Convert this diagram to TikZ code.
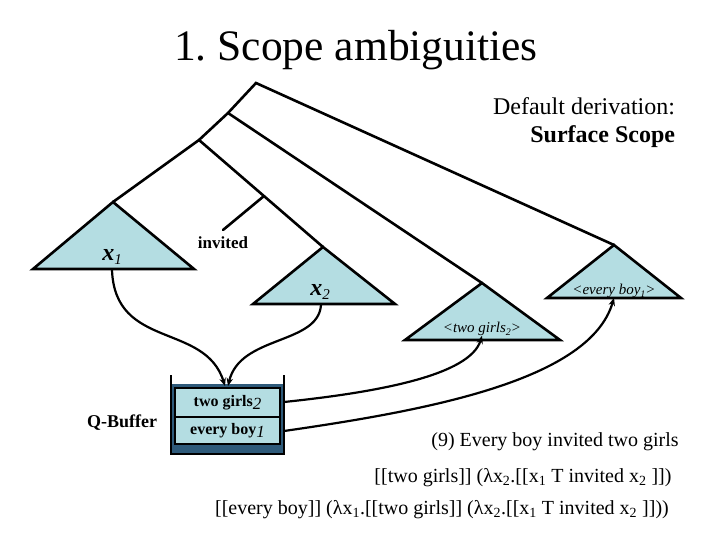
\documentclass[tikz,border=0pt]{standalone}
\usepackage{fontspec}
\setmainfont{Liberation Serif}
\usetikzlibrary{arrows.meta}
\definecolor{tri}{RGB}{180,221,226}
\definecolor{frame}{RGB}{46,90,122}
\newcommand{\fs}[1]{\fontsize{#1}{#1}\selectfont}
\frenchspacing
\begin{document}
\begin{tikzpicture}[x=1pt,y=-1pt,
  treeline/.style={line width=2.6pt,line cap=round},
  tribox/.style={fill=tri,draw=black,line width=2.6pt,line join=miter},
  link/.style={line width=2.2pt,-{Stealth[length=8pt,width=6.5pt]}},
  lbl/.style={inner sep=0pt,outer sep=0pt}]
\useasboundingbox (0,0) rectangle (720,540);
% title
\node[lbl,anchor=base,font=\fs{43.5}] (title) at (356,61) {1. Scope ambiguities};
\node[lbl,anchor=base east,font=\fs{24}] (def) at (675,115) {Default derivation:};
\node[lbl,anchor=base east,font=\fs{24}\bfseries] (surf) at (675,143) {Surface Scope};
% tree coordinates
\coordinate (root) at (256,83);
\coordinate (nA) at (228,113);
\coordinate (nB) at (199,140);
\coordinate (t1) at (113,202);
\coordinate (t2) at (323,247);
\coordinate (t3) at (482,283);
\coordinate (t4) at (614,245);
\coordinate (vb) at (264,196);
\coordinate (ve) at (223,230);
% triangles
\draw[tribox] (t1) -- (33,269) -- (194,269) -- cycle;
\draw[tribox] (t2) -- (253,304) -- (395,304) -- cycle;
\draw[tribox] (t3) -- (405,340) -- (560,340) -- cycle;
\draw[tribox] (t4) -- (547,298) -- (681,298) -- cycle;
% tree lines
\draw[treeline] (t1) -- (nB) -- (nA) -- (root) -- (t4);
\draw[treeline] (nA) -- (t3);
\draw[treeline] (nB) -- (t2);
\draw[treeline] (vb) -- (ve);
% triangle labels
\node[lbl,font=\fs{24}] (x1) at (112,257) {\textbf{\textit{x}}{\itshape\fs{15}\raisebox{-0.45ex}{1}}};
\node[lbl,font=\fs{24}] (x2) at (320,292) {\textbf{\textit{x}}{\itshape\fs{15}\raisebox{-0.45ex}{2}}};
\node[lbl,font=\fs{17}\bfseries] (inv) at (223,243) {invited};
\node[lbl,font=\fs{15}\itshape] (eb) at (614,291) {<every boy\raisebox{-0.4ex}{\fs{10}1}>};
\node[lbl,font=\fs{15}\itshape] (tg) at (482,329) {<two girls\raisebox{-0.4ex}{\fs{10}2}>};
% Q-buffer
\node[lbl,font=\fs{18}\bfseries] (qb) at (122,423) {Q-Buffer};
\fill[frame] (171,384) rectangle (284,454);
\draw[line width=2pt] (171,375) -- (171,454) -- (284,454) -- (284,375);
\node[lbl,draw=black,fill=tri,line width=2pt,minimum width=105pt,minimum height=29pt,font=\fs{16}\bfseries] (cellA) at (227.5,402.5) {two girls{\mdseries\itshape\fs{17}\raisebox{-0.45ex}{2}}};
\node[lbl,draw=black,fill=tri,line width=2pt,minimum width=105pt,minimum height=27pt,font=\fs{16}\bfseries] (cellB) at (227.5,430.5) {every boy{\mdseries\itshape\fs{17}\raisebox{-0.45ex}{1}}};
\coordinate (bufin) at (225,386);
\coordinate (wallA) at (284,402);
\coordinate (wallB) at (284,431);
% links
\draw[link] (x1.south) ++(0,6) .. controls (115,350) and (205,322) .. (bufin);
\draw[link] (x2.south) ++(1,6) .. controls (318,345) and (240,335) .. (228,386);
\draw[link] (wallA) .. controls (380,392) and (470,375) .. (tg.south);
\draw[link] (wallB) .. controls (430,410) and (590,380) .. (eb.south);
% formulas
\node[lbl,font=\fs{20}] (f1) at (555,442) {(9) Every boy invited two girls};
\node[lbl,font=\fs{20}] (f2) at (523,478) {[[two girls]] (λx\textsubscript{2}.[[x\textsubscript{1} T invited x\textsubscript{2} ]])};
\node[lbl,font=\fs{20}] (f3) at (442,510) {[[every boy]] (λx\textsubscript{1}.[[two girls]] (λx\textsubscript{2}.[[x\textsubscript{1} T invited x\textsubscript{2} ]]))};
\end{tikzpicture}
\end{document}
